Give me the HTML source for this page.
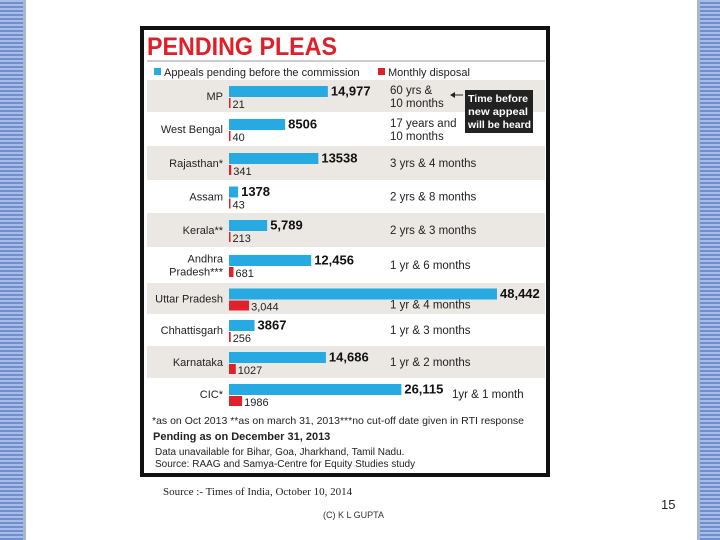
<!DOCTYPE html>
<html><head><meta charset="utf-8"><style>
body{margin:0;width:720px;height:540px;background:#fff;position:relative;overflow:hidden;font-family:"Liberation Sans",sans-serif}
.strip{position:absolute;top:0;width:23px;height:540px;background:repeating-linear-gradient(0deg,#6f8fd0 0 2px,#a9bce6 2px 4px);border-right:3px solid #a8b8cc}
svg text{font-family:"Liberation Sans",sans-serif}
</style></head><body>
<div class="strip" style="left:0"></div>
<div class="strip" style="left:697px;border-right:none;border-left:3px solid #a8b8cc"></div>
<svg width="720" height="540" style="position:absolute;left:0;top:0" id="chart">
<rect x="142" y="28" width="406" height="447" fill="#fff" stroke="#111" stroke-width="4"/>
<text x="147" y="55" font-size="25" font-weight="bold" fill="#e02028" textLength="190" lengthAdjust="spacingAndGlyphs">PENDING PLEAS</text>
<line x1="147" y1="61" x2="545" y2="61" stroke="#999" stroke-width="1"/>
<rect x="154" y="68" width="7" height="7" fill="#27aae1"/>
<text x="164" y="76" font-size="11" fill="#222">Appeals pending before the commission</text>
<rect x="378" y="68" width="7" height="7" fill="#e0202a"/>
<text x="388" y="76" font-size="11" fill="#222">Monthly disposal</text>
<g id="rows"></g>
<rect x="465" y="90" width="68" height="43" fill="#222"/>
<text x="468" y="102" font-size="10.5" font-weight="bold" fill="#fff" textLength="60" lengthAdjust="spacingAndGlyphs">Time before</text>
<text x="468" y="115" font-size="10.5" font-weight="bold" fill="#fff" textLength="60" lengthAdjust="spacingAndGlyphs">new appeal</text>
<text x="468" y="128" font-size="10.5" font-weight="bold" fill="#fff" textLength="63" lengthAdjust="spacingAndGlyphs">will be heard</text>
<line x1="452" y1="95" x2="463" y2="95" stroke="#222" stroke-width="1"/>
<path d="M450 95 L455 92 L455 98 Z" fill="#222"/>
<text x="152" y="424" font-size="10.5" fill="#222">*as on Oct 2013 **as on march 31, 2013***no cut-off date given in RTI response</text>
<text x="153" y="440" font-size="11" font-weight="bold" fill="#222">Pending as on December 31, 2013</text>
<text x="155" y="455" font-size="10" fill="#222">Data unavailable for Bihar, Goa, Jharkhand, Tamil Nadu.</text>
<text x="155" y="467" font-size="10" fill="#222">Source: RAAG and Samya-Centre for Equity Studies study</text>
<text x="163" y="495" font-size="11" fill="#222" style="font-family:'Liberation Serif',serif">Source :- Times of India, October 10, 2014</text>
<text x="323" y="518" font-size="9" fill="#333">(C) K L GUPTA</text>
<text x="661" y="509" font-size="13" fill="#222">15</text>
</svg>
<script>
const states=["MP","West Bengal","Rajasthan*","Assam","Kerala**","Andhra|Pradesh***","Uttar Pradesh","Chhattisgarh","Karnataka","CIC*"];
const pending=[14977,8506,13538,1378,5789,12456,48442,3867,14686,26115];
const pendingLabels=["14,977","8506","13538","1378","5,789","12,456","48,442","3867","14,686","26,115"];
const disposal=[21,40,341,43,213,681,3044,256,1027,1986];
const disposalLabels=["21","40","341","43","213","681","3,044","256","1027","1986"];
const waitTimes=["60 yrs &|10 months","17 years and|10 months","3 yrs & 4 months","2 yrs & 8 months","2 yrs & 3 months","1 yr & 6 months","1 yr & 4 months","1 yr & 3 months","1 yr & 2 months","1yr & 1 month"];
const rowTops=[80,112,146,180,213,247,283,314,346,378,410];
const NS="http://www.w3.org/2000/svg";
const g=document.getElementById('rows');
const x0=229, k=0.0066, maxW=268;
const xs=v=>Math.min(v*k,maxW);
function mk(t,a,p){const e=document.createElementNS(NS,t);for(const n in a)e.setAttribute(n,a[n]);(p||g).appendChild(e);return e;}
states.forEach((s,i)=>{
 const top=rowTops[i],h=rowTops[i+1]-top,mid=top+h/2;
 if(i%2===0){const r=mk('rect',{x:147,y:top,width:398,height:h,fill:'#ebe8e4'});
 
 }
 const parts=s.split('|');
 parts.forEach((p,j)=>{const t=mk('text',{x:223,y:mid+4+(j-(parts.length-1)/2)*13,'font-size':11,'text-anchor':'end',fill:'#222'});t.textContent=p;
 
 });
 const bw=xs(pending[i]);
 const b=mk('rect',{x:x0,y:mid-10,width:bw,height:11,fill:'#27aae1'});
 
 
 const bl=mk('text',{x:x0+bw+3,y:mid-0.5,'font-size':13,'font-weight':'bold',fill:'#111'});bl.textContent=pendingLabels[i];
 
 
 const rw=Math.max(xs(disposal[i]),1.5);
 const r=mk('rect',{x:x0,y:mid+2,width:rw,height:10,fill:'#e0202a'});
 
 
 const rl=mk('text',{x:x0+rw+2,y:mid+12,'font-size':11,fill:'#222'});rl.textContent=disposalLabels[i];
 
 
 const wp=waitTimes[i].split('|');
 const wx=i===9?452:390;
 wp.forEach((p,j)=>{const t=mk('text',{x:wx,y:mid+(wp.length>1?(j?11:-2):(i===6?10:4)),'font-size':11.5,fill:'#222'});t.textContent=p;
 
 });
});
</script>
</body></html>
